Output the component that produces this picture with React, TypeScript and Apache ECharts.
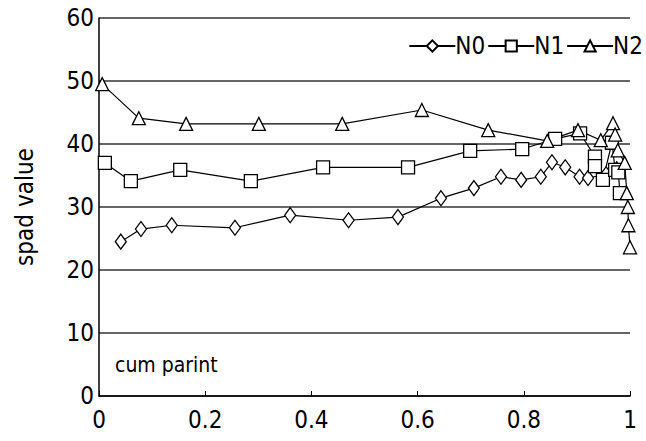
import React, { useEffect, useRef } from "react";
import * as echarts from "echarts";

const n0X = [0.041, 0.079, 0.137, 0.256, 0.36, 0.47, 0.563, 0.644, 0.706, 0.757, 0.795, 0.832, 0.853, 0.878, 0.905, 0.921, 0.955, 0.975];
const n0Y = [24.5, 26.5, 27.1, 26.7, 28.7, 27.9, 28.4, 31.4, 33.0, 34.8, 34.3, 34.8, 37.1, 36.3, 34.8, 34.6, 35.2, 36.0];

const n1X = [0.011, 0.06, 0.153, 0.286, 0.422, 0.582, 0.699, 0.797, 0.859, 0.906, 0.934, 0.934, 0.949, 0.966, 0.972, 0.978, 0.981];
const n1Y = [37.0, 34.1, 35.9, 34.1, 36.3, 36.3, 38.9, 39.2, 40.8, 41.7, 38.0, 36.5, 34.3, 40.2, 35.9, 35.5, 32.2];

const n2X = [0.006, 0.075, 0.164, 0.301, 0.458, 0.608, 0.733, 0.844, 0.902, 0.945, 0.968, 0.972, 0.977, 0.99, 0.994, 0.996, 0.997, 1.0];
const n2Y = [49.5, 44.1, 43.2, 43.2, 43.2, 45.4, 42.2, 40.5, 42.2, 40.6, 43.3, 41.5, 39.0, 37.0, 32.2, 30.0, 27.1, 23.6];

const seriesNames = ["N0", "N1", "N2"];
const yAxisTitle = "spad value";
const annotation = "cum parint";

const FONT = "'DejaVu Sans Condensed', 'Liberation Sans', sans-serif";

function zip(xs: number[], ys: number[]) {
  return xs.map((x, i) => [x, ys[i]]);
}

export default function App() {
  const ref = useRef<HTMLDivElement>(null);
  useEffect(() => {
    if (!ref.current) return;
    const chart = echarts.init(ref.current, null, { renderer: "svg" });
    const mk = (name: string, data: number[][], symbol: string, size: any) => ({
      name,
      type: "line",
      data,
      symbol,
      symbolSize: size,
      showAllSymbol: true,
      lineStyle: { color: "#000", width: 1.2 },
      itemStyle: { color: "#fff", borderColor: "#000", borderWidth: 1.3 },
      emphasis: { disabled: true },
    });
    chart.setOption({
      animation: false,
      backgroundColor: "#fff",
      textStyle: { fontFamily: FONT },
      grid: { left: 99, right: 16, top: 18, bottom: 45, containLabel: false },
      legend: {
        data: seriesNames,
        right: 3,
        top: 34,
        padding: 0,
        itemWidth: 46,
        itemHeight: 14,
        itemGap: 2,
        textStyle: { fontFamily: FONT, fontSize: 24, color: "#000", padding: [0, 0, 0, -5] },
      },
      xAxis: {
        type: "value",
        min: 0,
        max: 1,
        interval: 0.2,
        axisLine: { show: true, onZero: false, lineStyle: { color: "#000", width: 1.5 } },
        axisTick: { show: true, inside: true, length: 5, lineStyle: { color: "#000" } },
        splitLine: { show: false },
        axisLabel: {
          fontFamily: FONT,
          fontSize: 24,
          color: "#000",
          margin: 12,
          formatter: (v: number) => String(Number(v.toFixed(1))),
        },
      },
      yAxis: {
        type: "value",
        min: 0,
        max: 60,
        interval: 10,
        name: yAxisTitle,
        nameLocation: "middle",
        nameGap: 62,
        nameTextStyle: { fontFamily: FONT, fontSize: 24, color: "#000" },
        axisLine: { show: true, lineStyle: { color: "#000", width: 1.5 } },
        axisTick: { show: false },
        splitLine: { show: true, lineStyle: { color: "#333", width: 1.5 } },
        axisLabel: { fontFamily: FONT, fontSize: 24, color: "#000", margin: 5 },
      },
      graphic: [
        {
          type: "text",
          left: 115,
          top: 354,
          style: { text: annotation, fontFamily: FONT, fontSize: 21, fill: "#000" },
        },
      ],
      series: [
        mk("N0", zip(n0X, n0Y), "diamond", [11, 15]),
        mk("N1", zip(n1X, n1Y), "rect", [13, 13]),
        mk("N2", zip(n2X, n2Y), "triangle", [13, 13]),
      ],
    });
    return () => chart.dispose();
  }, []);
  return <div ref={ref} style={{ width: 646, height: 441, position: "absolute", left: 0, top: 0 }} />;
}
